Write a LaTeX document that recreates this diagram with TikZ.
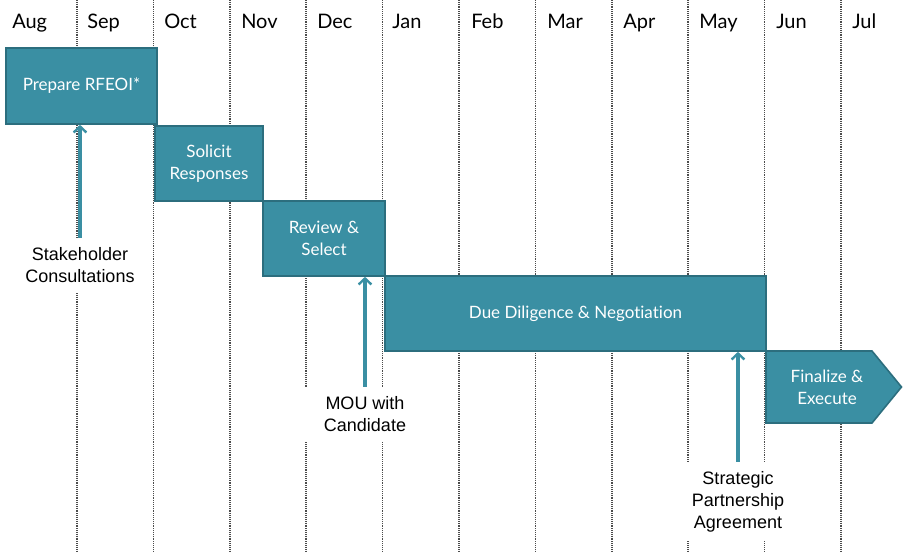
\documentclass[tikz,border=0pt]{standalone}
\usepackage{fontspec}
\setmainfont[RawFeature=-liga]{Lato}
\newfontfamily\arialf{Liberation Sans}
\usetikzlibrary{arrows.meta,fit}
\definecolor{teal1}{HTML}{3A8FA3}
\definecolor{teal2}{HTML}{2C6E7E}
\definecolor{arrc}{HTML}{3A8FA3}
\begin{document}
\begin{tikzpicture}[x=0.75pt,y=-0.75pt,
  grid/.style={black!70,line width=1.2pt,dash pattern=on 0.7pt off 0.7pt},
  month/.style={anchor=base west,inner sep=0pt,font=\fontsize{15}{18}\selectfont},
  box/.style={draw=teal2,fill=teal1,line width=1.2pt,inner sep=0pt},
  boxtext/.style={text=white,align=center,inner sep=0pt,font=\fontsize{12.75}{16.5}\selectfont},
  call/.style={fill=white,inner sep=0pt,align=center,font=\arialf\fontsize{13.5}{16.5}\selectfont},
  arr/.style={draw=arrc,line width=2.3pt,-{Straight Barb[length=4.5pt,width=9.5pt,line width=1.8pt]}}]
\useasboundingbox (0,0) rectangle (903,552);
% grid lines
\foreach \i in {0,...,10}{
  \draw[grid] ({77+76.4*\i},0) -- ({77+76.4*\i},552);
}
% month labels
\foreach \m/\x in {Aug/12,Sep/87,Oct/164,Nov/241,Dec/317,Jan/392,Feb/471,Mar/547,Apr/623,May/699,Jun/776,Jul/852}{
  \node[month] (m\m) at (\x,29) {\m};
}
% callout labels (white background hides grid lines)
\node[call,minimum width=82.5pt,minimum height=41.25pt] (sh) at (80,265.5) {Stakeholder\\Consultations};
\node[call,minimum width=97.5pt,minimum height=41.25pt] (mou) at (365,414.5) {MOU with\\Candidate};
\node[call,minimum width=90pt,minimum height=59.25pt] (spa) at (738,501.5) {Strategic\\Partnership\\Agreement};
% boxes
\node[box,fit={(6,48) (157,124)}] (prep) {};
\node[boxtext] (prept) at (prep.center) {Prepare RFEOI*};
\node[box,fit={(155,126) (263,201)}] (sol) {};
\node[boxtext] (solt) at (sol.center) {Solicit\\Responses};
\node[box,fit={(263,201) (385,276)}] (rev) {};
\node[boxtext] (revt) at (rev.center) {Review \&\\Select};
\node[box,fit={(385,276) (766,351)}] (due) {};
\node[boxtext] (duet) at (due.center) {Due Diligence \& Negotiation};
\draw[draw=teal2,fill=teal1,line width=1.2pt] (766,351) -- (872,351) -- (901.5,387) -- (872,423) -- (766,423) -- cycle;
\node[boxtext] (fin) at (827,387) {Finalize \&\\Execute};
% arrows
\draw[arr] (sh.north) -- (sh.north |- prep.south);
\draw[arr] (mou.north) -- (mou.north |- rev.south);
\draw[arr] (spa.north) -- (spa.north |- due.south);
\end{tikzpicture}
\end{document}
